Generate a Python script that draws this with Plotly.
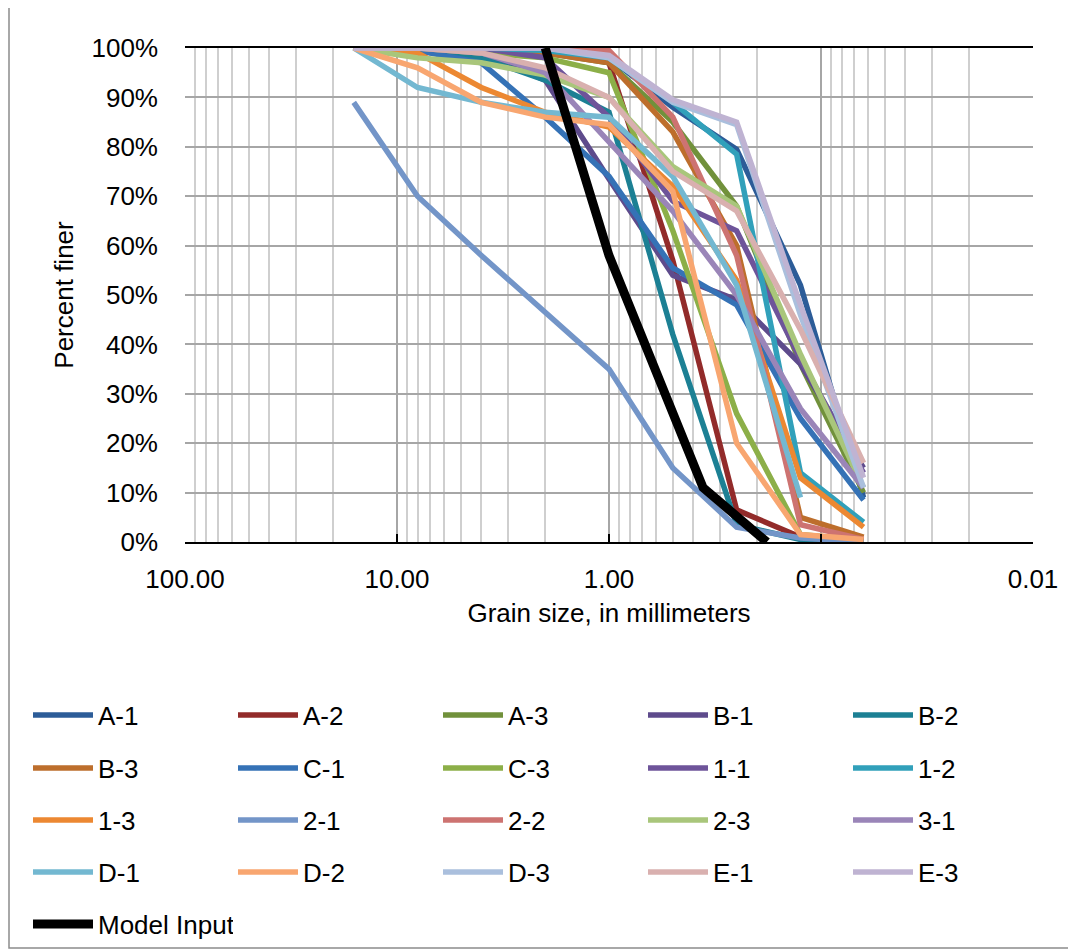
import plotly.graph_objects as go

# Sieve sizes (mm)
sizes = [16, 8, 4, 2, 1, 0.5, 0.25, 0.125, 0.063]

names = ["A-1", "A-2", "A-3", "B-1", "B-2",
         "B-3", "C-1", "C-3", "1-1", "1-2",
         "1-3", "2-1", "2-2", "2-3", "3-1",
         "D-1", "D-2", "D-3", "E-1", "E-3"]

a1 = [100, 100, 100, 99.5, 98, 88, 79.5, 52, 9]
a2 = [100, 100, 100, 100, 97, 57, 6.5, 1, 0.2]
a3 = [100, 100, 100, 99, 97, 85, 68, 36, 10]
b1 = [100, 100, 99, 93.5, 73.5, 54, 49, 36, 15]
b2 = [100, 100, 98, 93.5, 87, 42, 3.5, 0.5, 0]
b3 = [100, 100, 100, 99, 97, 83, 60, 5, 1]
c1 = [100, 99.5, 97, 86, 74, 55.5, 48, 25, 8.5]
c3 = [100, 100, 99, 98, 95, 63, 26, 1.5, 0.3]
s11 = [100, 100, 100, 98, 86, 69, 63, 37, 14]
s12 = [100, 100, 100, 99.5, 98, 89, 78.5, 14, 4]
s13 = [100, 99, 92, 87, 84, 72, 53, 13, 3]
s21 = [89, 70, 58, 46.5, 35, 15, 3, 0.8, 0]
s22 = [100, 100, 100, 100, 99.5, 86, 58, 3.5, 0.5]
s23 = [100, 98, 97, 94.5, 90, 76, 68, 38, 11]
s31 = [100, 100, 99, 95, 81, 67, 50, 27, 11]
d1 = [100, 92, 89, 87, 86, 74, 52, 9, None]
d2 = [100, 96, 89, 86, 84.5, 71, 20, 1.5, 0.5]
d3 = [100, 100, 100, 100, 98, 89, 84.5, 46, 11]
e1 = [100, 100, 99, 96, 90, 75, 67, 43, 16]
e3 = [100, 100, 100, 100, 98.5, 89.5, 85, 48, 13]

series = [a1, a2, a3, b1, b2, b3, c1, c3, s11, s12,
          s13, s21, s22, s23, s31, d1, d2, d3, e1, e3]

colors = ["#2C5C98", "#922B2A", "#71913B", "#5E4B8C", "#1C8094",
          "#BD6E2C", "#3572B6", "#8CAF48", "#6E549A", "#31A0BA",
          "#EC8832", "#7395C8", "#CD7371", "#A9C67B", "#9A85B8",
          "#73B8D1", "#F8A670", "#AABFDD", "#D9B0AF", "#BFB3D2"]

model_x = [2.0, 1.0, 0.36, 0.18]
model_y = [100, 58, 11, 0]

FONT = "Liberation Sans, Arial, sans-serif"
FS = 26
OFF = 8  # page body margin
W, H = 1076 - OFF, 950 - OFF
L, T = 185 - OFF, 48 - OFF
R = W - (1033 - OFF)
B = H - (542 - OFF)
pw, ph = W - L - R, H - T - B

def px_x(p):
    return (p - OFF - L) / pw

def px_y(p):
    return (H - B - (p - OFF)) / ph

fig = go.Figure()
for i, (nm, ys, col) in enumerate(zip(names, series, colors)):
    row = i // 5
    lg = "legend" if row == 0 else f"legend{row + 1}"
    fig.add_trace(go.Scatter(x=sizes, y=ys, name=nm, mode="lines",
                             line=dict(color=col, width=5.5),
                             legend=lg, connectgaps=False))
fig.add_trace(go.Scatter(x=model_x, y=model_y, name="Model Input", mode="lines",
                         line=dict(color="#000000", width=9), legend="legend5"))

row_centers = [715, 768, 820, 872, 924]
leg_common = dict(orientation="h", xanchor="left", yanchor="middle",
                  entrywidth=130, entrywidthmode="pixels", itemwidth=60,
                  font=dict(family=FONT, size=FS, color="#000"),
                  bgcolor="rgba(0,0,0,0)", traceorder="normal")
legends = {}
for k, yc in enumerate(row_centers):
    key = "legend" if k == 0 else f"legend{k + 1}"
    legends[key] = dict(x=px_x(28), y=px_y(yc), **leg_common)

fig.update_layout(
    width=W, height=H,
    margin=dict(l=L, r=R, t=T, b=B, autoexpand=False),
    paper_bgcolor="white", plot_bgcolor="white",
    font=dict(family=FONT, size=FS, color="#000"),
    showlegend=True,
    xaxis=dict(type="log", range=[2, -2],
               tickvals=[100, 10, 1, 0.1, 0.01],
               ticktext=["100.00", "10.00", "1.00", "0.10", "0.01"],
               showgrid=True, gridcolor="#A6A6A6", gridwidth=2,
               minor=dict(dtick="D1", showgrid=True, gridcolor="#CFCFCF", gridwidth=2),
               showline=True, linecolor="#000", linewidth=2, mirror=True,
               ticks="inside", ticklen=8, tickwidth=2, tickcolor="#000",
               ticklabelstandoff=13,
               tickfont=dict(family=FONT, size=FS),
               title=dict(text="Grain size, in millimeters", standoff=11,
                          font=dict(family=FONT, size=FS)),
               zeroline=False),
    yaxis=dict(range=[0, 100], dtick=10, ticksuffix="%",
               showgrid=True, gridcolor="#A6A6A6", gridwidth=2,
               showline=False, ticks="", ticklabelstandoff=26,
               tickfont=dict(family=FONT, size=FS),
               title=dict(text="Percent finer", standoff=10,
                          font=dict(family=FONT, size=FS)),
               zeroline=False),
    shapes=[dict(type="rect", xref="paper", yref="paper",
                 x0=px_x(OFF + 1), x1=px_x(1075), y0=px_y(948), y1=px_y(1),
                 line=dict(color="#8C8C8C", width=1.5), layer="below")],
    **legends,
)

fig.write_html("out.html")
